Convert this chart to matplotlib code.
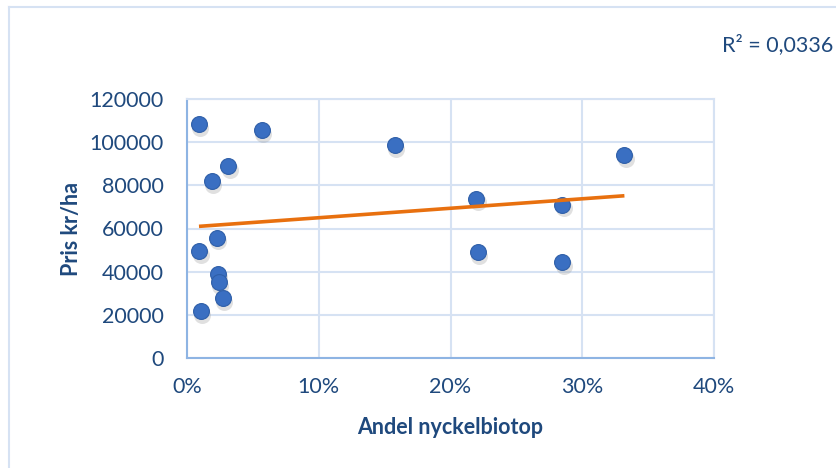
import numpy as np
import matplotlib.pyplot as plt
from matplotlib.lines import Line2D
from matplotlib.ticker import FuncFormatter

plt.rcParams['font.family'] = ['Lato', 'DejaVu Sans']

# andel nyckelbiotop (fraction) and pris kr/ha
andel = [0.0091, 0.0566, 0.158, 0.0313, 0.0187, 0.0225, 0.0093, 0.0235,
         0.0242, 0.0270, 0.0104, 0.332, 0.2195, 0.285, 0.2207, 0.285]
pris = [108500, 105750, 98800, 88800, 81850, 55800, 49600, 39150,
        35000, 27600, 21900, 94200, 73850, 71080, 49150, 44530]
r2_text = "R² = 0,0336"
x_label = "Andel nyckelbiotop"
y_label = "Pris kr/ha"

text_col = '#1f497d'
grid_col = '#d6e2f3'
axis_col = '#8eb4e3'
dot_col = '#3a6fc2'
trend_col = '#e8700f'


def main():
    fig = plt.figure(figsize=(8.36, 4.68), dpi=100)
    ax = fig.add_axes([187 / 836, 1 - 358 / 468, (714 - 187) / 836, (358 - 99) / 468])

    x = np.array(andel)
    y = np.array(pris)

    # shadow under the dots
    ax.scatter(x + 0.001, y - 1800, s=150, color='#9a9a9a', alpha=0.3,
               linewidths=0, zorder=2)
    ax.scatter(x, y, s=130, color=dot_col, edgecolors='#2f5fa8',
               linewidths=0.8, zorder=3)

    # linear trend over the data range
    k, m = np.polyfit(x, y, 1)
    xs = np.array([x.min(), x.max()])
    ax.plot(xs, k * xs + m, color=trend_col, lw=2.6, zorder=4,
            solid_capstyle='butt')

    ax.set_xlim(0, 0.4)
    ax.set_ylim(0, 120000)
    ax.set_xticks(np.arange(0, 0.41, 0.1))
    ax.set_yticks(np.arange(0, 120001, 20000))
    ax.xaxis.set_major_formatter(FuncFormatter(lambda v, p: f"{v * 100:.0f}%"))
    ax.yaxis.set_major_formatter(FuncFormatter(lambda v, p: f"{v:.0f}"))
    ax.grid(True, color=grid_col, lw=1.5)
    ax.set_axisbelow(True)
    for s in ['top', 'right']:
        ax.spines[s].set_color(grid_col)
        ax.spines[s].set_linewidth(1.5)
    for s in ['left', 'bottom']:
        ax.spines[s].set_color(axis_col)
        ax.spines[s].set_linewidth(1.5)
    ax.tick_params(length=0, colors=text_col, labelsize=15.5)
    ax.tick_params(axis='y', pad=17)
    ax.tick_params(axis='x', pad=14)

    ax.set_xlabel(x_label, fontsize=15.5, fontweight='bold', color=text_col, labelpad=14)
    ax.set_ylabel(y_label, fontsize=15.5, fontweight='bold', color=text_col, labelpad=5)

    fig.text(833 / 836, 1 - 45 / 468, r2_text, ha='right', va='center',
             fontsize=15.5, color=text_col)

    # chart area border
    fig.add_artist(Line2D([9 / 836, 9 / 836], [0, 1 - 7 / 468], color=grid_col,
                          lw=1.5, transform=fig.transFigure))
    fig.add_artist(Line2D([9 / 836, 1], [1 - 7 / 468, 1 - 7 / 468], color=grid_col,
                          lw=1.5, transform=fig.transFigure))

    fig.savefig('out.png', dpi=100)


if __name__ == "__main__":
    main()
